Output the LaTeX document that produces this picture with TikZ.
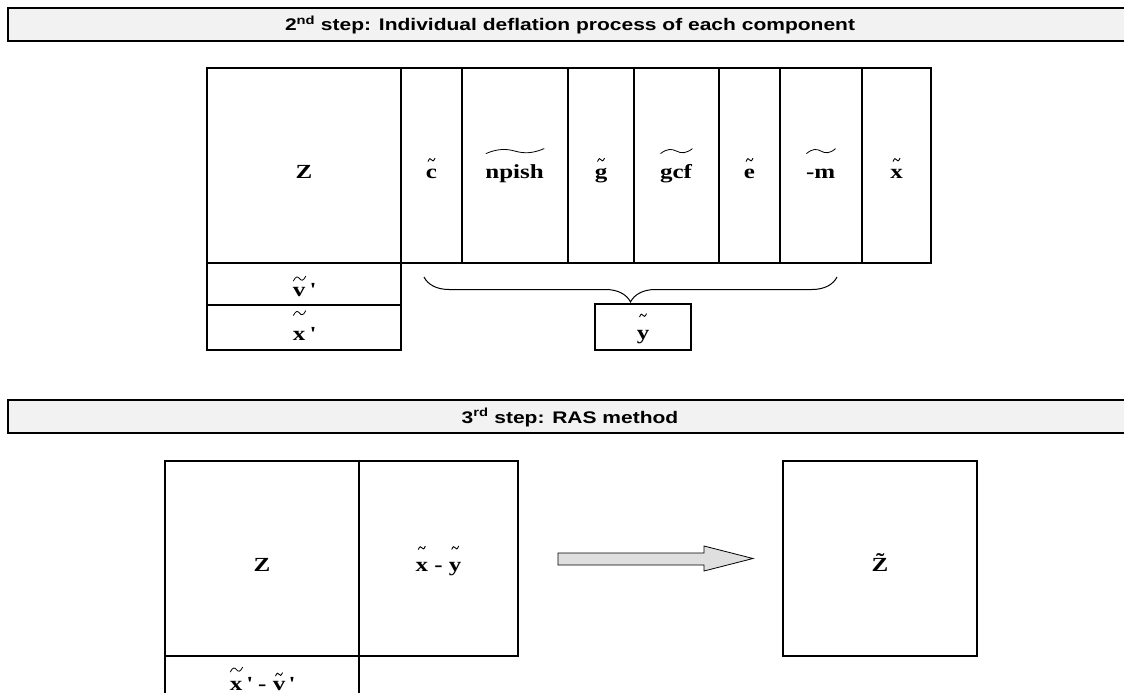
\documentclass[tikz,border=0pt]{standalone}
\usepackage{fontspec}
\setmainfont{Liberation Serif}[FakeStretch=1.25]
\newfontfamily\headfont{Liberation Sans}[FakeStretch=1.25]
\usetikzlibrary{decorations.pathreplacing}

\newlength\tlw
\newlength\tlr
% wide tilde drawn over its argument; optional argument = height of the tilde above the baseline
\newcommand\wtl[2][]{%
  \setbox0=\hbox{#2}%
  \setlength\tlw{\wd0}%
  \ifx\relax#1\relax\setlength\tlr{\dimexpr\ht0+3pt\relax}\else\setlength\tlr{#1}\fi
  \leavevmode\rlap{\box0}%
  \raisebox{\tlr}{\tikz[x=\tlw,y=1pt,line width=0.8pt]\draw (0,0) .. controls (0.2,5) and (0.35,5) .. (0.5,2.5) .. controls (0.65,0) and (0.8,0) .. (1,5);}%
}
% small tilde centred over a single letter; optional argument = height of the tilde above the baseline
\newcommand\stl[2][16pt]{%
  \setbox0=\hbox{#2}%
  \leavevmode\rlap{\copy0}%
  \makebox[\wd0]{\raisebox{#1}{\tikz[x=7pt,y=1pt,line width=0.9pt]\draw (0,0) .. controls (0.2,3.5) and (0.35,3.5) .. (0.5,1.75) .. controls (0.65,0) and (0.8,0) .. (1,3.5);}}%
}
\newcommand\apo{\,\textquotesingle}

\begin{document}
\begin{tikzpicture}[x=1pt,y=-1pt,
  cell/.style={draw, line width=1.6pt, inner sep=0pt, text height=26pt, text depth=1pt,
    font=\fontsize{20}{24}\selectfont\bfseries},
  stepbar/.style={draw, line width=1.6pt, fill=gray!10, inner sep=0pt,
    minimum width=1124pt, minimum height=33pt, text height=13pt, text depth=0pt,
    font=\headfont\fontsize{16.8}{20}\selectfont\bfseries},
  bigarrow/.style={draw, line width=0.8pt, fill=gray!25},
  brace/.style={decorate, decoration={brace, mirror, amplitude=25pt}, line width=1pt}
]
\useasboundingbox (0,0) rectangle (1124,693);

% ---- 2nd step ----
\node[stepbar] (bar2) at (570,24.5) {2\textsuperscript{nd} step: Individual deflation process of each component};

\node[cell, minimum width=194pt, minimum height=195pt] (t1z)   at (304,165.5)   {Z};
\node[cell, minimum width=61pt,  minimum height=195pt] (t1c)   at (431.5,165.5) {\stl{c}};
\node[cell, minimum width=106pt, minimum height=195pt] (t1n)   at (515,165.5)   {\wtl[24pt]{npish}};
\node[cell, minimum width=66pt,  minimum height=195pt] (t1g)   at (601,165.5)   {\stl{g}};
\node[cell, minimum width=85pt,  minimum height=195pt] (t1gcf) at (676.5,165.5) {\wtl[24pt]{gcf}};
\node[cell, minimum width=61pt,  minimum height=195pt] (t1e)   at (749.5,165.5) {\stl{e}};
\node[cell, minimum width=82pt,  minimum height=195pt] (t1m)   at (821,165.5)   {\wtl[24pt]{-m}};
\node[cell, minimum width=69pt,  minimum height=195pt] (t1x)   at (896.5,165.5) {\stl{x}};
\node[cell, minimum width=194pt, minimum height=42pt]  (t1v)   at (304,284)     {\wtl[15pt]{v}\apo};
\node[cell, minimum width=194pt, minimum height=45pt]  (t1xp)  at (304,327.5)   {\wtl[24pt]{x}\apo};
\node[cell, minimum width=96pt,  minimum height=46pt]  (t1y)   at (643,327)     {\stl[22pt]{y}};

\coordinate (bl) at (424,277);
\coordinate (br) at (837,277);
\draw[brace] (bl) -- (br);

% ---- 3rd step ----
\node[stepbar] (bar3) at (570,416.5) {3\textsuperscript{rd} step: RAS method};

\node[cell, minimum width=194pt, minimum height=195pt] (t2z)  at (262,558.5) {Z};
\node[cell, minimum width=159pt, minimum height=195pt] (t2xy) at (438.5,558.5) {\stl[21pt]{x} - \stl[21pt]{y}};
\node[cell, minimum width=194pt, minimum height=44pt]  (t2r)  at (262,678) {\wtl[18pt]{x}\apo\ - \stl[14pt]{v}\apo};

\draw[bigarrow] (558,553) -- (704,553) -- (704,546) -- (753,558.5) -- (704,571) -- (704,565) -- (558,565) -- cycle;

\node[cell, minimum width=194pt, minimum height=195pt] (zt) at (880,558.5) {\~Z};
\end{tikzpicture}
\end{document}
